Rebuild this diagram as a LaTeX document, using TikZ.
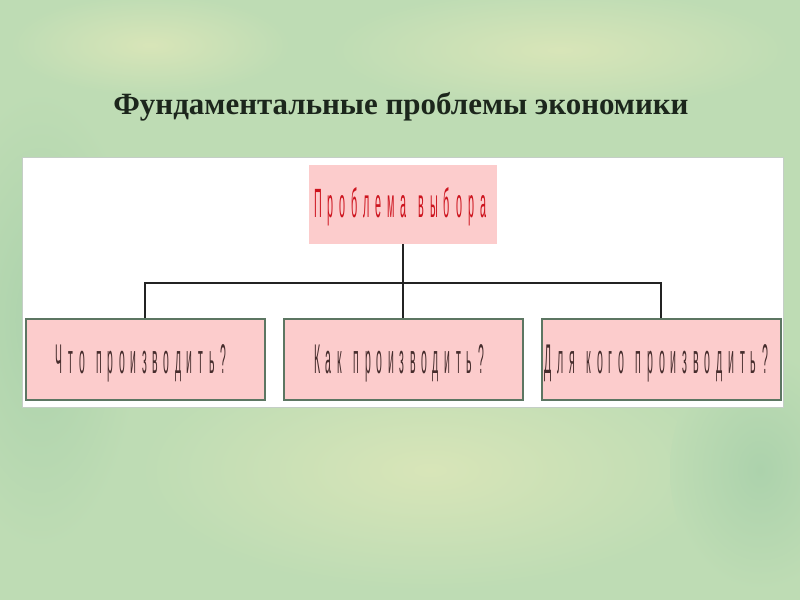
\documentclass[tikz,border=0pt]{standalone}
\usepackage{fontspec}
\usepackage{graphicx}
\setmainfont{Liberation Serif}
\newfontfamily\condfont[LetterSpace=55]{Liberation Sans}
\newcommand{\wsp}{\hspace{1.1em}}
\definecolor{bgA}{RGB}{190,220,180}
\definecolor{bgB}{RGB}{216,229,184}
\definecolor{bgC}{RGB}{172,210,172}
\definecolor{titlecol}{RGB}{28,38,28}
\definecolor{panelline}{RGB}{196,206,198}
\definecolor{pinkfill}{RGB}{252,204,204}
\definecolor{boxline}{RGB}{92,118,98}
\definecolor{redtext}{RGB}{205,20,30}
\definecolor{darktext}{RGB}{70,45,45}
\definecolor{connector}{RGB}{35,35,35}
\begin{document}
\begin{tikzpicture}[x=1pt,y=-1pt,
  topbox/.style={fill=pinkfill, draw=none, minimum width=188pt, minimum height=79pt, inner sep=0pt},
  leafbox/.style={fill=pinkfill, draw=boxline, line width=2pt, minimum width=239pt, minimum height=81pt, inner sep=0pt},
  conn/.style={draw=connector, line width=1.5pt},
  label/.style={inner sep=0pt, anchor=base},
  blobB/.style={inner color=bgB, outer color=bgA},
  blobC/.style={inner color=bgC, outer color=bgA}]
\fill[bgA] (0,0) rectangle (800,600);
\useasboundingbox (0,0) rectangle (800,600);
\begin{scope}
\clip (0,0) rectangle (800,600);
\shade[blobB] (430,470) ellipse (290 and 120);
\shade[blobB] (560,50) ellipse (230 and 60);
\shade[blobC] (40,320) ellipse (100 and 230);
\shade[blobC] (760,470) ellipse (90 and 120);
\shade[blobB] (150,45) ellipse (140 and 50);
\end{scope}
% title
\node[label, font=\bfseries, text=titlecol] (title) at (401,114)
  {\resizebox{575pt}{!}{Фундаментальные проблемы экономики}};
% panel
\node[fill=white, draw=panelline, line width=1pt, minimum width=761pt, minimum height=250pt, inner sep=0pt] (panel) at (402.5,282) {};
% boxes
\node[topbox] (choice) at (403,204.5) {};
\node[leafbox] (b1) at (145,359.5) {};
\node[leafbox] (b2) at (403,359.5) {};
\node[leafbox] (b3) at (661,359.5) {};
% texts
\node[label, text=redtext] (t0) at (400,217)
  {\resizebox{172pt}{30pt}{\condfont Проблема\wsp выбора}};
\node[label, text=darktext] (t1) at (141,373)
  {\resizebox{170pt}{29pt}{\condfont Что\wsp производить?}};
\node[label, text=darktext] (t2) at (399,373)
  {\resizebox{170pt}{29pt}{\condfont Как\wsp производить?}};
\node[label, text=darktext] (t3) at (656,373)
  {\resizebox{224pt}{29pt}{\condfont Для\wsp кого\wsp производить?}};
% connectors
\coordinate (j) at (403,283);
\draw[conn] (choice.south) -- (j);
\draw[conn] (b1.north) -- (b1.north |- j) -- (b3.north |- j) -- (b3.north);
\draw[conn] (j) -- (b2.north);
\end{tikzpicture}
\end{document}
